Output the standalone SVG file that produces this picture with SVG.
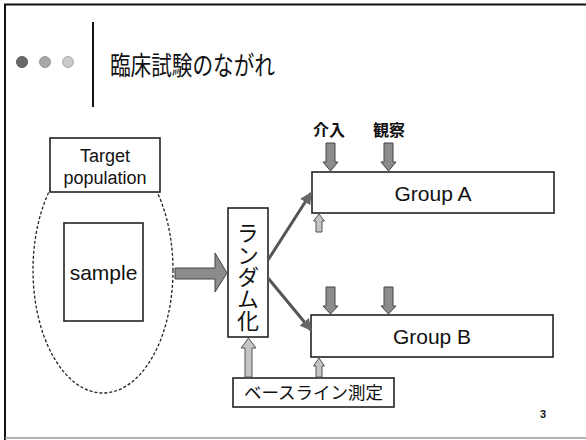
<svg xmlns="http://www.w3.org/2000/svg" width="586" height="440" viewBox="0 0 586 440">
<defs>
<style>
.box{fill:#fff;stroke:#222;stroke-width:1.6}
.lat{font-family:"Liberation Sans",Arial,sans-serif;fill:#111}
.jp{font-family:"Noto Sans CJK JP","Noto Sans CJK SC",sans-serif;fill:#111}
.dn{fill:#8c8c8c;stroke:#444;stroke-width:1}
.up{fill:#c4c4c4;stroke:#555;stroke-width:1}
.diag{stroke:#555;stroke-width:3;fill:none;marker-end:url(#ah)}
.vert{writing-mode:vertical-rl;text-orientation:upright}
</style>
<marker id="ah" viewBox="0 0 10 10" refX="9" refY="5" markerWidth="4" markerHeight="4" orient="auto" markerUnits="strokeWidth">
<path d="M0,0 L10,5 L0,10 z" fill="#666"/>
</marker>
</defs>
<rect width="586" height="440" fill="#fff"/>
<g id="frame">
<line x1="4" y1="4.5" x2="586" y2="4.5" stroke="#111" stroke-width="2"/>
<line x1="5" y1="4" x2="5" y2="440" stroke="#111" stroke-width="2"/>
<line x1="5" y1="438" x2="586" y2="438" stroke="#999" stroke-width="1.5"/>
<circle cx="22" cy="62" r="5.5" fill="#6a6a6a" stroke="#444" stroke-width="0.8"/>
<circle cx="45" cy="62" r="5.5" fill="#a8a8a8" stroke="#888" stroke-width="0.8"/>
<circle cx="68" cy="62" r="5.5" fill="#cacaca" stroke="#999" stroke-width="0.8"/>
<line x1="93" y1="22" x2="93" y2="107" stroke="#111" stroke-width="2"/>
<text class="jp" x="110" y="75" font-size="26" textLength="165" lengthAdjust="spacingAndGlyphs">臨床試験のながれ</text>
<text class="lat" x="543" y="418" font-size="11" font-weight="bold" text-anchor="middle">3</text>
</g>
<g id="population">
<ellipse cx="103" cy="270" rx="70" ry="123" fill="none" stroke="#222" stroke-width="1.3" stroke-dasharray="3,2"/>
<rect class="box" x="50" y="138" width="110" height="54"/>
<text class="lat" x="105" y="162" font-size="18" text-anchor="middle">Target</text>
<text class="lat" x="105" y="184" font-size="18" text-anchor="middle">population</text>
</g>
<g id="sample">
<rect class="box" x="64" y="223" width="79" height="98"/>
<text class="lat" x="103.5" y="280" font-size="21" text-anchor="middle">sample</text>
</g>
<g id="randomization">
<rect class="box" x="228" y="208" width="40" height="129"/>
<text class="jp vert" x="248" y="222" font-size="22">ランダム化</text>
</g>
<g id="groupA">
<rect class="box" x="312" y="172" width="242" height="41"/>
<text class="lat" x="433" y="201" font-size="21" text-anchor="middle">Group A</text>
</g>
<g id="groupB">
<rect class="box" x="311" y="315" width="242" height="42"/>
<text class="lat" x="432" y="344" font-size="21" text-anchor="middle">Group B</text>
</g>
<g id="baseline">
<rect class="box" x="233" y="378" width="161" height="29"/>
<text class="jp" x="313.5" y="399" font-size="17.5" text-anchor="middle">ベースライン測定</text>
</g>
<g id="labels">
<text class="jp" x="329" y="136" font-size="16" font-weight="bold" text-anchor="middle">介入</text>
<text class="jp" x="389" y="136" font-size="16" font-weight="bold" text-anchor="middle">観察</text>
</g>
<g id="connectors">
<path class="dn" d="M175,268 L215,268 L215,253 L227,273 L215,292 L215,279 L175,279 Z"/>
<line class="diag" x1="268" y1="260" x2="311" y2="193"/>
<line class="diag" x1="268" y1="278" x2="311" y2="330"/>
<path class="dn" d="M326,143 L335,143 L335,162 L338,162 L330.5,171 L323,162 L326,162 Z"/>
<path class="dn" d="M384,143 L393,143 L393,162 L396,162 L388.5,171 L381,162 L384,162 Z"/>
<path class="dn" d="M326,287 L335,287 L335,306 L338,306 L330.5,314 L323,306 L326,306 Z"/>
<path class="dn" d="M384,287 L393,287 L393,306 L396,306 L388.5,314 L381,306 L384,306 Z"/>
<path class="up" d="M316,232 L322,232 L322,221 L324.5,221 L319,214 L313.5,221 L316,221 Z"/>
<path class="up" d="M316,377 L322,377 L322,366 L324.5,366 L319,358 L313.5,366 L316,366 Z"/>
<path class="up" d="M245,377 L252,377 L252,348 L256,348 L248.5,338 L241,348 L245,348 Z"/>
</g>
</svg>
